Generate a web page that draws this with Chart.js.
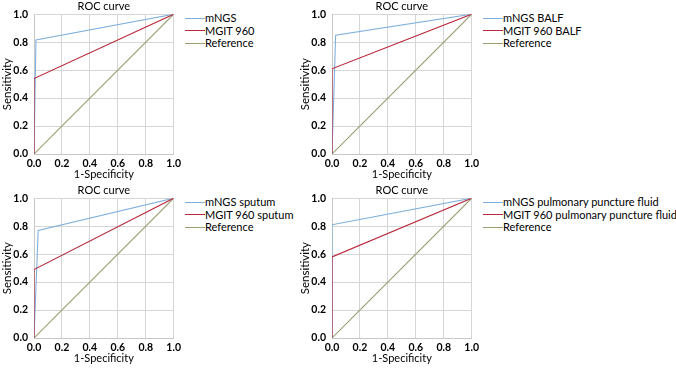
<!DOCTYPE html>
<html>
<head>
<meta charset="utf-8">
<script src="https://cdn.jsdelivr.net/npm/chart.js@4"></script>
<style>
  body { margin: 0; background: #fff; }
  #wrap { position: relative; width: 676px; height: 368px; overflow: hidden; font-family: Lato, sans-serif; }
  canvas { position: absolute; }
  .legend { position: absolute; font-size: 11px; color: #000; white-space: nowrap; width: 200px; }
  .legend .row { display: flex; align-items: center; height: 12.5px; line-height: 12.5px; white-space: nowrap; }
  .legend .swatch { width: 20px; height: 0; border-top: 1px solid; flex: none; }
</style>
</head>
<body>
<div id="wrap"></div>
<script>
// tick labels and titles
var xTicks = [0, 0.2, 0.4, 0.6, 0.8, 1.0];
var chartTitle = 'ROC curve';
var xTitle = '1-Specificity';
var yTitle = 'Sensitivity';
var lineColors = ['#7fb0dc', '#b8293b', '#9e9e74'];

// legend labels per panel
var labelsAll = ['mNGS', 'MGIT 960', 'Reference'];
var labelsBalf = ['mNGS BALF', 'MGIT 960 BALF', 'Reference'];
var labelsSputum = ['mNGS sputum', 'MGIT 960 sputum', 'Reference'];
var labelsPpf = ['mNGS pulmonary puncture fluid', 'MGIT 960 pulmonary puncture fluid', 'Reference'];

// ROC points: 1-specificity (x) and sensitivity (y)
var mngsAllX = [0, 0.014, 1];     var mngsAllY = [0, 0.815, 1];
var mgitAllX = [0, 0, 1];         var mgitAllY = [0, 0.54, 1];
var mngsBalfX = [0, 0.026, 1];    var mngsBalfY = [0, 0.85, 1];
var mgitBalfX = [0, 0, 1];        var mgitBalfY = [0, 0.61, 1];
var mngsSputumX = [0, 0.03, 1];   var mngsSputumY = [0, 0.77, 1];
var mgitSputumX = [0, 0, 1];      var mgitSputumY = [0, 0.49, 1];
var mngsPpfX = [0, 0, 1];         var mngsPpfY = [0, 0.81, 1];
var mgitPpfX = [0, 0, 1];         var mgitPpfY = [0, 0.58, 1];
var refX = [0, 1];                var refY = [0, 1];

function pts(xs, ys) {
  var out = [];
  for (var i = 0; i < xs.length; i++) out.push({x: xs[i], y: ys[i]});
  return out;
}

function makePanel(id, left, top, labels, series) {
  var wrap = document.getElementById('wrap');
  var canvas = document.createElement('canvas');
  canvas.id = id;
  canvas.width = 184; canvas.height = 184;
  canvas.style.left = left + 'px'; canvas.style.top = top + 'px';
  canvas.style.width = '184px'; canvas.style.height = '184px';
  wrap.appendChild(canvas);

  var datasets = [];
  for (var i = 0; i < 3; i++) {
    datasets.push({
      label: labels[i],
      data: series[i],
      showLine: true,
      borderColor: lineColors[i],
      backgroundColor: lineColors[i],
      borderWidth: 1.1,
      pointRadius: 0,
      tension: 0,
      order: [1, 0, 2][i]
    });
  }

  new Chart(canvas, {
    type: 'scatter',
    data: { datasets: datasets },
    options: {
      responsive: false,
      animation: false,
      layout: { padding: { left: 0, right: 10, top: 0, bottom: 0 } },
      plugins: {
        legend: { display: false },
        tooltip: { enabled: false },
        title: {
          display: true, text: chartTitle, fullSize: false,
          color: '#000', font: { family: 'Lato', size: 11, weight: 'normal' },
          padding: { top: 0, bottom: 1 }
        }
      },
      scales: {
        x: {
          type: 'linear', min: 0, max: 1,
          afterFit: function(s) { s.height = 30; },
          afterBuildTicks: function(s) { s.ticks = xTicks.map(function(v) { return {value: v}; }); },
          grid: { color: '#d6d6d6', drawTicks: false, lineWidth: 1 },
          border: { color: '#c8c8c8' },
          ticks: {
            color: '#000', padding: 3,
            font: { family: 'Lato', size: 10.5, weight: 'bold' },
            callback: function(v) { return v.toFixed(1); }
          },
          title: {
            display: true, text: xTitle, color: '#000',
            font: { family: 'Lato', size: 11 }, padding: { top: 0, bottom: 2.5 }
          }
        },
        y: {
          type: 'linear', min: 0, max: 1,
          afterFit: function(s) { s.width = 34; },
          afterBuildTicks: function(s) { s.ticks = xTicks.map(function(v) { return {value: v}; }); },
          grid: { color: '#d6d6d6', drawTicks: false, lineWidth: 1 },
          border: { color: '#c8c8c8' },
          ticks: {
            color: '#000', padding: 6,
            font: { family: 'Lato', size: 10.5, weight: 'bold' },
            callback: function(v) { return v.toFixed(1); }
          },
          title: {
            display: true, text: yTitle, color: '#000',
            font: { family: 'Lato', size: 11.5 }, padding: { top: 0, bottom: 0 }
          }
        }
      }
    }
  });

  // legend built from the dataset labels and colours
  var leg = document.createElement('div');
  leg.className = 'legend';
  leg.style.left = (left + 185) + 'px';
  leg.style.top = (top + 12) + 'px';
  for (var j = 0; j < 3; j++) {
    var row = document.createElement('div');
    row.className = 'row';
    var sw = document.createElement('span');
    sw.className = 'swatch';
    sw.style.borderTopColor = lineColors[j];
    var tx = document.createElement('span');
    tx.textContent = labels[j];
    row.appendChild(sw); row.appendChild(tx);
    leg.appendChild(row);
  }
  wrap.appendChild(leg);
}

makePanel('c1', 0, 0, labelsAll,
  [pts(mngsAllX, mngsAllY), pts(mgitAllX, mgitAllY), pts(refX, refY)]);
makePanel('c2', 298, 0, labelsBalf,
  [pts(mngsBalfX, mngsBalfY), pts(mgitBalfX, mgitBalfY), pts(refX, refY)]);
makePanel('c3', 0, 184, labelsSputum,
  [pts(mngsSputumX, mngsSputumY), pts(mgitSputumX, mgitSputumY), pts(refX, refY)]);
makePanel('c4', 298, 184, labelsPpf,
  [pts(mngsPpfX, mngsPpfY), pts(mgitPpfX, mgitPpfY), pts(refX, refY)]);
</script>
</body>
</html>
